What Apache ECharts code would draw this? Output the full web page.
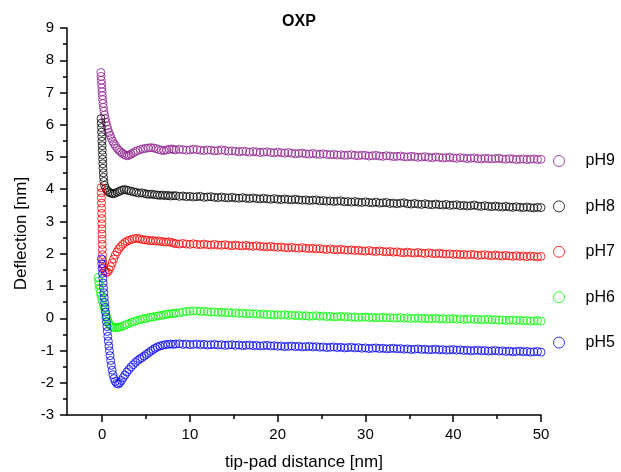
<!DOCTYPE html>
<html>
<head>
<meta charset="utf-8">
<script src="https://cdn.jsdelivr.net/npm/echarts@6/dist/echarts.min.js"></script>
<style>html,body{margin:0;padding:0;background:#fff}#c{width:621px;height:472px}</style>
</head>
<body>
<div id="c"></div>
<script>
// ---- data ----
const seriesNames = ['pH9', 'pH8', 'pH7', 'pH6', 'pH5'];
const xTickLabels = [0, 10, 20, 30, 40, 50];
const xMinorTicks = [5, 15, 25, 35, 45];

// near-contact region: [distance nm, deflection nm]
const pH9_head = [[-0.15,7.62],[-0.12,7.50],[-0.09,7.38],[-0.06,7.26],[-0.03,7.14],[0.00,7.02],[0.03,6.90],[0.06,6.78],[0.10,6.66],[0.15,6.54],[0.21,6.42],[0.28,6.30],[0.36,6.19],[0.45,6.08],[0.55,5.97],[0.66,5.86],[0.78,5.76],[0.91,5.67],[1.05,5.58],[1.20,5.49],[1.36,5.41],[1.53,5.34],[1.71,5.27],[1.90,5.21],[2.10,5.16],[2.30,5.12],[2.50,5.08],[2.70,5.05],[2.90,5.04],[3.10,5.06],[3.30,5.09],[3.55,5.13],[3.80,5.17],[4.05,5.20],[4.35,5.23],[4.65,5.25],[4.95,5.27],[5.25,5.28],[5.55,5.29],[5.85,5.28],[6.15,5.26],[6.45,5.23],[6.75,5.21],[7.05,5.20],[7.35,5.22],[7.65,5.24],[7.95,5.25],[8.15,5.23]];
const pH8_head = [[-0.12,6.19],[-0.10,6.05],[-0.08,5.91],[-0.06,5.77],[-0.04,5.63],[-0.02,5.49],[0.00,5.35],[0.02,5.21],[0.04,5.07],[0.06,4.93],[0.08,4.79],[0.10,4.65],[0.13,4.51],[0.16,4.37],[0.20,4.24],[0.28,4.12],[0.40,4.03],[0.55,3.97],[0.72,3.92],[0.90,3.89],[1.10,3.87],[1.30,3.86],[1.50,3.88],[1.75,3.91],[2.00,3.94],[2.25,3.97],[2.50,3.99],[2.75,3.98],[3.00,3.96],[3.30,3.94],[3.60,3.92],[3.90,3.90],[4.20,3.88],[4.50,3.89],[4.80,3.87],[5.10,3.85],[5.40,3.84],[5.70,3.85],[6.00,3.83],[6.30,3.82],[6.60,3.81],[6.90,3.82],[7.20,3.80],[7.50,3.81],[7.80,3.79],[8.10,3.80]];
const pH7_head = [[-0.10,4.05],[-0.09,3.89],[-0.08,3.73],[-0.07,3.57],[-0.06,3.41],[-0.05,3.25],[-0.04,3.09],[-0.03,2.93],[-0.02,2.77],[-0.01,2.61],[0.00,2.45],[0.01,2.29],[0.02,2.13],[0.04,1.97],[0.07,1.82],[0.11,1.68],[0.18,1.56],[0.30,1.47],[0.45,1.42],[0.62,1.43],[0.80,1.50],[0.98,1.60],[1.15,1.72],[1.32,1.84],[1.50,1.96],[1.70,2.06],[1.90,2.15],[2.10,2.22],[2.35,2.29],[2.60,2.35],[2.85,2.39],[3.10,2.42],[3.40,2.45],[3.70,2.47],[4.00,2.48],[4.30,2.46],[4.60,2.44],[4.90,2.43],[5.20,2.42],[5.50,2.40],[5.80,2.41],[6.10,2.39],[6.40,2.40],[6.70,2.38],[7.00,2.37],[7.30,2.36],[7.60,2.37],[7.90,2.35],[8.15,2.33]];
const pH6_head = [[-0.45,1.27],[-0.40,1.15],[-0.35,1.03],[-0.28,0.91],[-0.20,0.80],[-0.12,0.70],[-0.03,0.60],[0.06,0.50],[0.16,0.40],[0.26,0.30],[0.36,0.20],[0.46,0.10],[0.56,0.00],[0.66,-0.09],[0.78,-0.16],[0.92,-0.22],[1.08,-0.26],[1.25,-0.28],[1.45,-0.29],[1.65,-0.29],[1.85,-0.28],[2.05,-0.27],[2.30,-0.25],[2.55,-0.22],[2.80,-0.19],[3.10,-0.16],[3.40,-0.12],[3.70,-0.10],[4.00,-0.07],[4.30,-0.05],[4.60,-0.02],[4.90,-0.01],[5.20,0.01],[5.50,0.03],[5.80,0.04],[6.10,0.06],[6.40,0.07],[6.70,0.09],[7.00,0.10],[7.30,0.12],[7.60,0.13],[7.90,0.14],[8.15,0.15]];
const pH5_head = [[-0.08,1.84],[-0.04,1.69],[0.00,1.54],[0.04,1.39],[0.08,1.24],[0.12,1.09],[0.16,0.94],[0.20,0.79],[0.24,0.64],[0.29,0.49],[0.34,0.34],[0.39,0.19],[0.44,0.04],[0.49,-0.11],[0.54,-0.26],[0.59,-0.41],[0.65,-0.56],[0.71,-0.71],[0.77,-0.86],[0.83,-1.01],[0.90,-1.16],[0.97,-1.31],[1.05,-1.46],[1.14,-1.61],[1.24,-1.75],[1.36,-1.87],[1.50,-1.96],[1.66,-2.02],[1.84,-2.04],[2.02,-2.00],[2.20,-1.93],[2.40,-1.84],[2.60,-1.76],[2.82,-1.67],[3.05,-1.59],[3.30,-1.51],[3.55,-1.44],[3.80,-1.37],[4.05,-1.31],[4.30,-1.26],[4.55,-1.22],[4.80,-1.17],[5.05,-1.12],[5.30,-1.07],[5.55,-1.02],[5.80,-0.97],[6.05,-0.93],[6.30,-0.89],[6.60,-0.86],[6.90,-0.84],[7.20,-0.82],[7.50,-0.81],[7.80,-0.80],[8.10,-0.81]];

// far region: deflection sampled every 0.4 nm from 8.4 nm to 50 nm
const tailStart = 8.4, tailStep = 0.4;
const pH9_tail = [5.22,5.24,5.23,5.21,5.22,5.24,5.23,5.21,5.20,5.22, 5.21,5.19,5.20,5.22,5.20,5.18,5.19,5.18,5.16,5.18, 5.17,5.15,5.17,5.16,5.14,5.15,5.16,5.14,5.13,5.15, 5.13,5.12,5.14,5.12,5.10,5.11,5.12,5.10,5.09,5.11, 5.09,5.08,5.10,5.08,5.07,5.08,5.06,5.07,5.05,5.06, 5.07,5.05,5.04,5.06,5.05,5.03,5.04,5.05,5.03,5.02, 5.04,5.03,5.01,5.02,5.03,5.01,5.00,5.02,5.01,4.99, 5.00,5.01,4.99,4.98,5.00,4.99,4.97,4.98,4.99,4.97, 4.96,4.98,4.97,4.95,4.96,4.97,4.95,4.94,4.96,4.95, 4.94,4.95,4.96,4.94,4.93,4.95,4.94,4.92,4.93,4.94, 4.92,4.93,4.94,4.92,4.93];
const pH8_tail = [3.80,3.78,3.79,3.77,3.78,3.76,3.77,3.78,3.75,3.76, 3.77,3.75,3.74,3.76,3.74,3.73,3.75,3.73,3.72,3.74, 3.72,3.71,3.73,3.71,3.70,3.72,3.70,3.69,3.71,3.69, 3.68,3.70,3.68,3.67,3.69,3.67,3.66,3.67,3.65,3.66, 3.67,3.64,3.65,3.63,3.64,3.62,3.63,3.64,3.61,3.62, 3.60,3.62,3.60,3.59,3.61,3.59,3.58,3.60,3.57,3.58, 3.59,3.56,3.57,3.55,3.57,3.58,3.55,3.54,3.56,3.54, 3.53,3.55,3.53,3.52,3.54,3.52,3.51,3.53,3.50,3.51, 3.52,3.49,3.50,3.48,3.49,3.51,3.48,3.47,3.49,3.47, 3.46,3.48,3.46,3.45,3.47,3.45,3.44,3.46,3.44,3.43, 3.45,3.43,3.42,3.44,3.43];
const pH7_tail = [2.31,2.30,2.32,2.30,2.29,2.31,2.29,2.28,2.30,2.28, 2.27,2.29,2.27,2.26,2.28,2.26,2.25,2.27,2.25,2.24, 2.26,2.24,2.23,2.25,2.23,2.22,2.21,2.23,2.21,2.20, 2.21,2.19,2.18,2.20,2.18,2.17,2.19,2.17,2.16,2.17, 2.15,2.16,2.14,2.13,2.15,2.13,2.12,2.14,2.12,2.11, 2.12,2.10,2.11,2.09,2.08,2.10,2.08,2.07,2.09,2.07, 2.06,2.07,2.05,2.06,2.04,2.03,2.05,2.03,2.02,2.04, 2.02,2.01,2.03,2.01,2.00,2.02,2.00,1.99,2.00,1.98, 1.99,1.97,1.98,1.96,1.98,1.97,1.95,1.96,1.97,1.95, 1.94,1.96,1.94,1.93,1.95,1.93,1.92,1.94,1.92,1.93, 1.91,1.93,1.92,1.90,1.92];
const pH6_tail = [0.16,0.17,0.19,0.21,0.22,0.23,0.22,0.21,0.22,0.20, 0.19,0.20,0.18,0.19,0.17,0.18,0.16,0.17,0.15,0.16, 0.14,0.15,0.13,0.14,0.12,0.13,0.11,0.12,0.10,0.11, 0.10,0.11,0.09,0.10,0.08,0.09,0.07,0.08,0.06,0.07, 0.08,0.06,0.07,0.05,0.06,0.04,0.05,0.06,0.04,0.05, 0.03,0.04,0.02,0.03,0.04,0.02,0.03,0.01,0.02,0.03, 0.01,0.02,0.00,0.01,0.02,0.00,0.01,-0.01,0.00,0.01, -0.01,0.00,-0.02,-0.01,0.00,-0.02,-0.01,-0.03,-0.02,-0.01, -0.03,-0.02,-0.04,-0.03,-0.02,-0.04,-0.03,-0.05,-0.04,-0.03, -0.05,-0.04,-0.06,-0.05,-0.07,-0.06,-0.05,-0.07,-0.06,-0.08, -0.07,-0.09,-0.08,-0.07,-0.09];
const pH5_tail = [-0.80,-0.79,-0.81,-0.80,-0.82,-0.81,-0.80,-0.82,-0.81,-0.83, -0.82,-0.81,-0.83,-0.82,-0.84,-0.83,-0.82,-0.84,-0.83,-0.85, -0.84,-0.83,-0.85,-0.84,-0.86,-0.85,-0.84,-0.86,-0.85,-0.87, -0.86,-0.88,-0.87,-0.86,-0.88,-0.87,-0.89,-0.88,-0.87,-0.89, -0.88,-0.90,-0.89,-0.91,-0.90,-0.89,-0.91,-0.90,-0.92,-0.91, -0.90,-0.92,-0.91,-0.93,-0.92,-0.94,-0.93,-0.92,-0.94,-0.93, -0.95,-0.94,-0.93,-0.95,-0.94,-0.96,-0.95,-0.97,-0.96,-0.95, -0.97,-0.96,-0.98,-0.97,-0.96,-0.98,-0.97,-0.99,-0.98,-0.97, -0.99,-0.98,-1.00,-0.99,-1.01,-1.00,-0.99,-1.01,-1.00,-1.02, -1.01,-1.00,-1.02,-1.01,-1.03,-1.02,-1.04,-1.03,-1.02,-1.04, -1.03,-1.05,-1.04,-1.03,-1.05];

// ---- build ----
const colors = ['#8c1c8c', '#000000', '#ff0000', '#00ff00', '#0000ff'];
const heads = [pH9_head, pH8_head, pH7_head, pH6_head, pH5_head];
const tails = [pH9_tail, pH8_tail, pH7_tail, pH6_tail, pH5_tail];
function build(head, tail) {
  return head.concat(tail.map((y, i) => [+(tailStart + tailStep * i).toFixed(2), y]));
}
const FONT = 'Liberation Sans, Arial, Helvetica, sans-serif';

const series = seriesNames.map((name, k) => ({
  name: name,
  type: 'scatter',
  xAxisIndex: 0,
  yAxisIndex: 0,
  symbol: 'circle',
  symbolSize: 8,
  silent: true,
  itemStyle: { color: 'rgba(255,255,255,0)', borderColor: colors[k], borderWidth: 1 },
  emphasis: { disabled: true },
  data: build(heads[k], tails[k])
}));

const chart = echarts.init(document.getElementById('c'), null, { renderer: 'canvas' });
chart.setOption({
  animation: false,
  backgroundColor: '#ffffff',
  title: {
    text: 'OXP', left: 294, top: 9, textAlign: 'center',
    textStyle: { fontFamily: FONT, fontSize: 16, fontWeight: 'bold', color: '#000' }
  },
  legend: {
    orient: 'vertical', left: 553, top: 152, padding: 0,
    itemWidth: 11, itemHeight: 11, itemGap: 27.4,
    data: seriesNames.map((n, k) => ({
      name: n, icon: 'circle',
      itemStyle: { color: 'rgba(255,255,255,0)', borderColor: colors[k], borderWidth: 1 }
    })),
    textStyle: { fontFamily: FONT, fontSize: 16, color: '#000', lineHeight: 18, padding: [0, 0, 0, 16] }
  },
  grid: { left: 67, right: 80, top: 28, bottom: 57, containLabel: false, outerBoundsMode: 'none' },
  xAxis: [{
    type: 'value', min: -4, max: 50, position: 'bottom',
    name: 'tip-pad distance [nm]', nameLocation: 'middle', nameGap: 39,
    nameTextStyle: { fontFamily: FONT, fontSize: 17, color: '#000' },
    axisLine: { show: true, onZero: false, lineStyle: { color: '#000', width: 1.5 } },
    axisTick: { show: true, inside: false, length: 7, customValues: xTickLabels, lineStyle: { color: '#000', width: 1.5 } },
    axisLabel: { show: true, customValues: xTickLabels, margin: 12, fontFamily: FONT, fontSize: 15, color: '#000' },
    splitLine: { show: false }
  }, {
    type: 'value', min: -4, max: 50, position: 'bottom',
    axisLine: { show: false, onZero: false },
    axisTick: { show: true, inside: false, length: 4, customValues: xMinorTicks, lineStyle: { color: '#000', width: 1.5 } },
    axisLabel: { show: false },
    splitLine: { show: false }
  }],
  yAxis: [{
    type: 'value', min: -3, max: 9, interval: 1,
    name: 'Deflection [nm]', nameLocation: 'middle', nameGap: 35, nameRotate: 90,
    nameTextStyle: { fontFamily: FONT, fontSize: 17, color: '#000', padding: [0, 24, 0, 0] },
    axisLine: { show: true, onZero: false, lineStyle: { color: '#000', width: 1.5 } },
    axisTick: { show: true, inside: false, length: 7, lineStyle: { color: '#000', width: 1.5 } },
    minorTick: { show: true, splitNumber: 2, length: 4, lineStyle: { color: '#000', width: 1.5 } },
    axisLabel: { margin: 13, fontFamily: FONT, fontSize: 15, color: '#000' },
    splitLine: { show: false }
  }],
  series: series
});
</script>
</body>
</html>
